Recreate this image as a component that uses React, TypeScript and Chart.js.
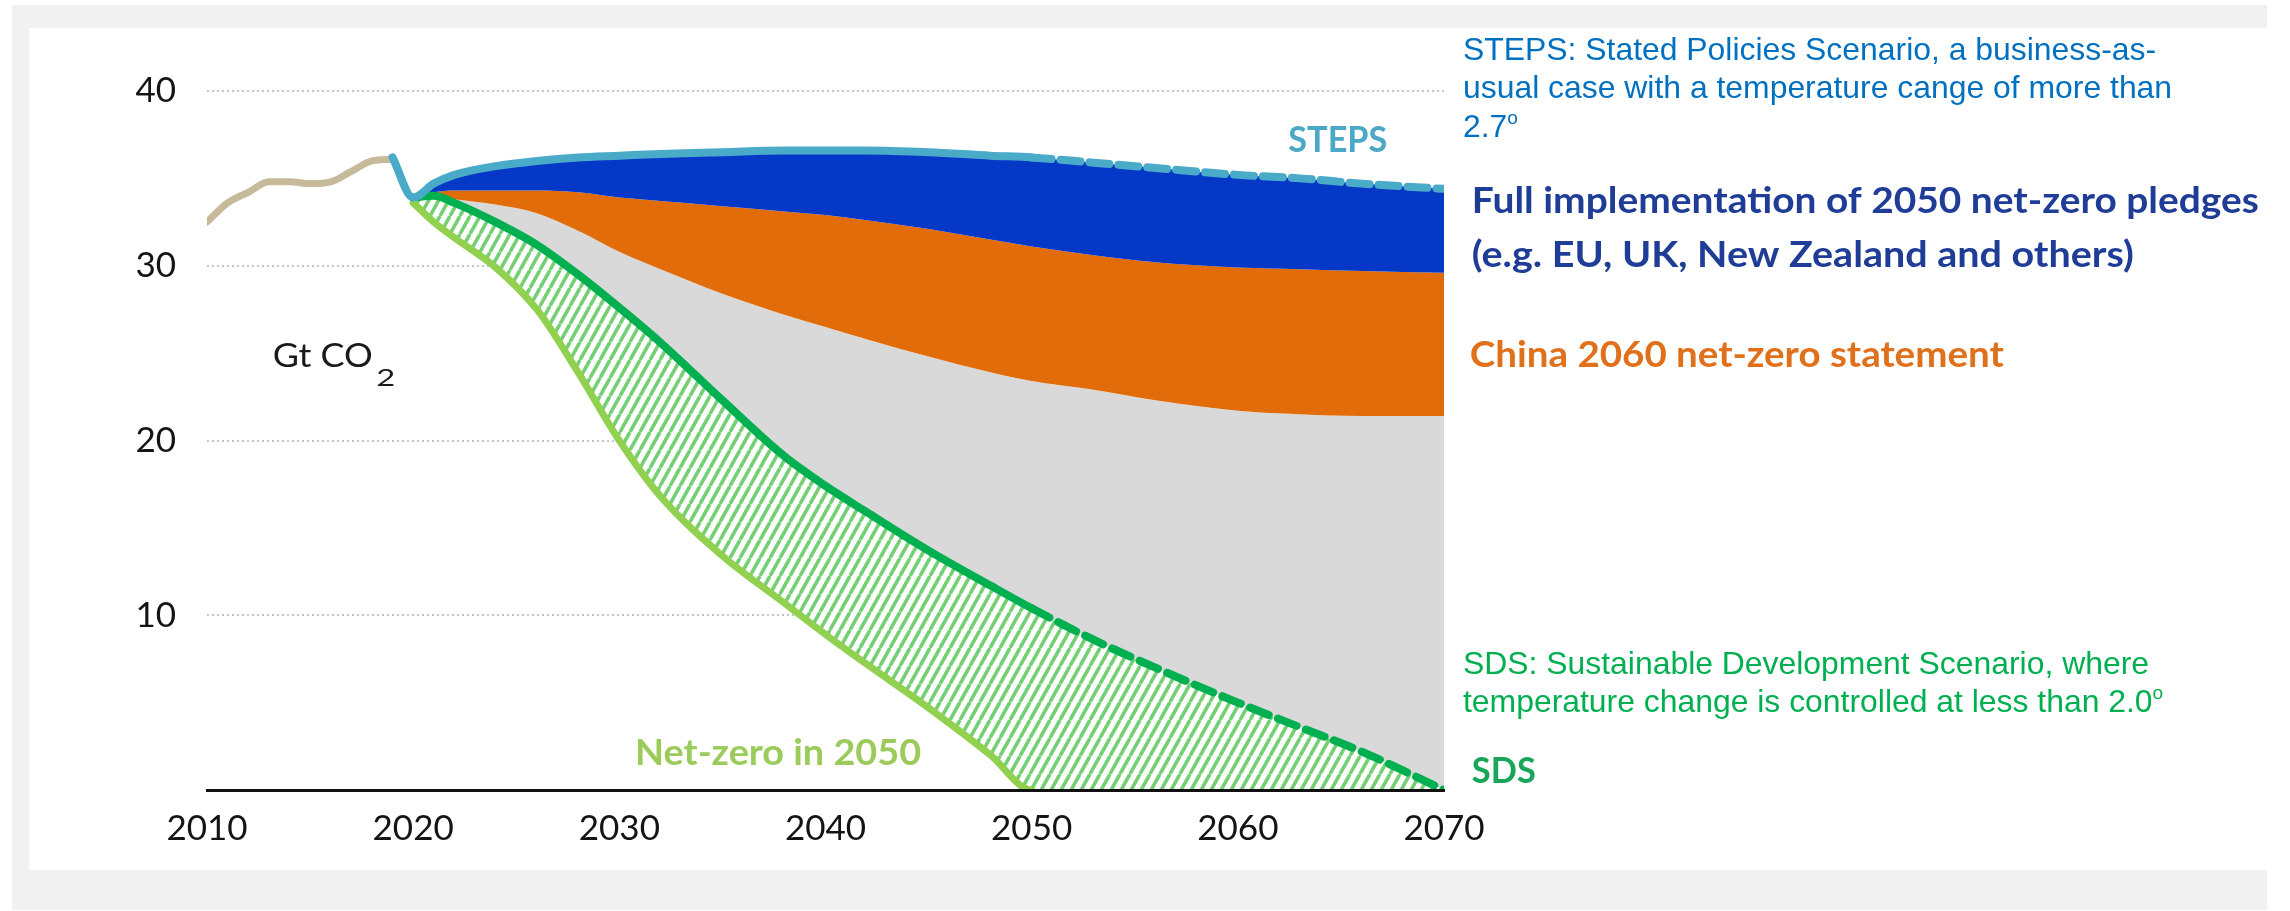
import React, { useEffect, useRef } from 'react';
import { Chart, registerables } from 'chart.js';

Chart.register(...registerables);

// Global energy-related CO2 emissions, Gt CO2
const historyYears = [2010, 2011, 2012, 2013, 2014, 2015, 2016, 2017, 2018, 2019];
const historyValues = [32.5, 33.6, 34.2, 34.8, 34.8, 34.7, 34.8, 35.4, 36.0, 36.1];

// Stated Policies Scenario (starts from the 2019 level, includes the 2020 dip)
const stepsYears = [2019, 2020, 2021, 2022, 2024, 2026, 2028, 2030, 2032, 2035, 2038, 2040, 2042, 2045, 2048, 2050, 2053, 2056, 2060, 2063, 2066, 2070];
const stepsValues = [36.2, 33.9, 34.7, 35.2, 35.7, 36.0, 36.2, 36.3, 36.4, 36.5, 36.6, 36.6, 36.6, 36.5, 36.3, 36.2, 35.9, 35.6, 35.2, 35.0, 34.7, 34.4];

// Shared projection years for the remaining scenario curves
const scenarioYears = [2020, 2021, 2022, 2024, 2026, 2028, 2030, 2032, 2035, 2038, 2040, 2042, 2045, 2048, 2050, 2053, 2056, 2060, 2063, 2066, 2070];
// Emissions after full implementation of 2050 net-zero pledges
const pledgesValues = [33.9, 34.2, 34.3, 34.3, 34.3, 34.2, 33.9, 33.7, 33.4, 33.1, 32.9, 32.6, 32.1, 31.5, 31.1, 30.6, 30.2, 29.9, 29.8, 29.7, 29.6];
// ...plus China's 2060 net-zero statement
const chinaValues = [33.9, 34.0, 33.8, 33.5, 33.0, 32.0, 30.8, 29.8, 28.4, 27.2, 26.5, 25.8, 24.8, 23.9, 23.4, 22.9, 22.3, 21.7, 21.5, 21.4, 21.4];
// Sustainable Development Scenario
const sdsValues = [33.9, 34.0, 33.6, 32.5, 31.2, 29.5, 27.6, 25.6, 22.3, 19.1, 17.4, 15.9, 13.7, 11.7, 10.4, 8.6, 7.0, 5.0, 3.6, 2.2, 0];
// Net-zero emissions by 2050
const netZeroValues = [33.6, 32.5, 31.6, 29.9, 27.5, 23.9, 20.0, 16.8, 13.4, 10.7, 8.9, 7.2, 4.7, 2.0, 0, 0, 0, 0, 0, 0, 0];

const yearTicks = [2010, 2020, 2030, 2040, 2050, 2060, 2070];
const valueTicks = [0, 10, 20, 30, 40];

const DASH_FROM = 2050;

const toPoints = (xs: number[], ys: number[]) => xs.map((x, i) => ({ x, y: ys[i] }));

function makeHatch(): CanvasPattern | string {
  const tile = document.createElement('canvas');
  const w = 10;
  const h = 18;
  tile.width = w;
  tile.height = h;
  const g = tile.getContext('2d');
  if (!g) return '#bfe8b5';
  g.fillStyle = '#ffffff';
  g.fillRect(0, 0, w, h);
  g.strokeStyle = '#74d073';
  g.lineWidth = 3.6;
  for (const dx of [-w, 0, w]) {
    g.beginPath();
    g.moveTo(dx, h);
    g.lineTo(dx + w, 0);
    g.stroke();
  }
  return g.createPattern(tile, 'repeat') || '#bfe8b5';
}

const LABEL_FONT = 'Lato, "Open Sans", sans-serif';

// Draws text stretched or condensed horizontally to an exact width.
function fitText(
  ctx: CanvasRenderingContext2D,
  text: string,
  x: number,
  y: number,
  width: number,
  align: CanvasTextAlign,
  font: string,
  color: string
) {
  ctx.save();
  ctx.font = font;
  ctx.fillStyle = color;
  ctx.textAlign = align;
  ctx.textBaseline = 'alphabetic';
  const natural = ctx.measureText(text).width || 1;
  ctx.translate(x, y);
  ctx.scale(width / natural, 1);
  ctx.fillText(text, 0, 0);
  ctx.restore();
}

const labelPlugin = {
  id: 'scenarioLabels',
  afterDraw(chart: any) {
    const { ctx } = chart;
    const xs = chart.scales.x;
    const ys = chart.scales.y;
    const bold = `bold 36px ${LABEL_FONT}`;
    const put = (text: string, year: number, value: number, width: number, align: CanvasTextAlign, font: string, color: string) =>
      fitText(ctx, text, xs.getPixelForValue(year), ys.getPixelForValue(value), width, align, font, color);

    put('STEPS', 2064.85, 36.5, 99, 'center', bold, '#4ba8c6');
    put('Net-zero in 2050', 2037.7, 1.43, 286, 'center', bold, '#9bcb5b');
    put('SDS', 2071.35, 0.4, 64, 'left', bold, '#19a65a');
    put('Full implementation of 2050 net-zero pledges', 2071.35, 33.02, 787, 'left', bold, '#1f3d96');
    put('(e.g. EU, UK, New Zealand and others)', 2071.35, 29.93, 662, 'left', bold, '#1f3d96');
    put('China 2060 net-zero statement', 2071.25, 24.21, 534, 'left', bold, '#e0701a');

    put('Gt CO', 2013.19, 24.21, 100, 'left', `33px ${LABEL_FONT}`, '#1a1a1a');
    put('2', 2018.21, 23.1, 19, 'left', `24px ${LABEL_FONT}`, '#1a1a1a');
  },
};

const descStyle = (top: number, color: string): React.CSSProperties => ({
  position: 'absolute',
  left: 1463,
  top,
  fontFamily: '"Liberation Sans", Arial, sans-serif',
  fontSize: 31.9,
  lineHeight: '38.3px',
  color,
  whiteSpace: 'nowrap',
});

const degree: React.CSSProperties = { fontSize: '0.6em', position: 'relative', top: -13 };

export default function App() {
  const canvasRef = useRef<HTMLCanvasElement>(null);

  useEffect(() => {
    const canvas = canvasRef.current;
    if (!canvas) return;
    const hatch = makeHatch();
    const clear = 'rgba(0,0,0,0)';

    const dashAfter = (dash: number[]) => (c: any) => (c.p0.parsed.x >= DASH_FROM ? dash : undefined);

    // Bands carry the area fills only; the visible curves are separate line datasets on top.
    const band = (data: { x: number; y: number }[], color: any, target: number | false) => ({
      data,
      borderWidth: 0,
      borderColor: clear,
      backgroundColor: color,
      fill: target,
    });

    const chart = new Chart(canvas, {
      type: 'line',
      data: {
        datasets: [
          {
            label: 'STEPS',
            data: toPoints(stepsYears, stepsValues),
            borderColor: '#4aabc9',
            borderWidth: 8,
            fill: false,
            segment: { borderDash: dashAfter([20, 9]) },
          },
          {
            label: 'Historical',
            data: toPoints(historyYears, historyValues),
            borderColor: '#c6ba9b',
            borderWidth: 7,
            fill: false,
          },
          {
            label: 'Net-zero in 2050',
            data: toPoints(scenarioYears, netZeroValues),
            borderColor: '#92d050',
            borderWidth: 7,
            fill: false,
            segment: {
              borderColor: (c: any) => (c.p0.parsed.x >= DASH_FROM ? clear : undefined),
            },
          },
          {
            label: 'SDS',
            data: toPoints(scenarioYears, sdsValues),
            borderColor: '#00b050',
            borderWidth: 8,
            fill: false,
            segment: { borderDash: dashAfter([20, 10]) },
          },
          // area bands: indices 4..8
          { label: 'STEPS band', ...band(toPoints(stepsYears, stepsValues), '#0638c8', 5) },
          { label: 'Pledges band', ...band(toPoints(scenarioYears, pledgesValues), '#e36c0a', 6) },
          { label: 'China band', ...band(toPoints(scenarioYears, chinaValues), '#d9d9d9', 7) },
          { label: 'SDS band', ...band(toPoints(scenarioYears, sdsValues), hatch, 8) },
          { label: 'Net-zero band', ...band(toPoints(scenarioYears, netZeroValues), clear, false) },
        ],
      },
      options: {
        responsive: false,
        maintainAspectRatio: false,
        animation: false,
        devicePixelRatio: 1,
        events: [],
        layout: { padding: { left: 0, top: 91, right: 846, bottom: 61 } },
        elements: {
          point: { radius: 0, hoverRadius: 0 },
          line: { cubicInterpolationMode: 'monotone', borderCapStyle: 'round', borderJoinStyle: 'round' },
        },
        plugins: {
          legend: { display: false },
          tooltip: { enabled: false },
          filler: { drawTime: 'beforeDatasetsDraw' },
        },
        scales: {
          x: {
            type: 'linear',
            min: yearTicks[0],
            max: yearTicks[yearTicks.length - 1],
            afterFit: (s: any) => {
              s.height = 60;
            },
            afterBuildTicks: (s: any) => {
              s.ticks = yearTicks.map((v) => ({ value: v }));
            },
            grid: { display: false, drawTicks: false },
            border: { display: true, color: '#111111', width: 3, z: 1 },
            ticks: {
              padding: 18,
              color: '#141414',
              font: { family: 'Lato', size: 35 },
              maxRotation: 0,
              autoSkip: false,
              callback: (v: any) => String(v),
            },
          },
          y: {
            type: 'linear',
            min: valueTicks[0],
            max: valueTicks[valueTicks.length - 1],
            afterFit: (s: any) => {
              s.width = 207;
            },
            afterBuildTicks: (s: any) => {
              s.ticks = valueTicks.map((v) => ({ value: v }));
            },
            grid: {
              drawTicks: false,
              lineWidth: 2,
              color: (c: any) => (c.tick && c.tick.value === 0 ? clear : '#c4c4c4'),
            },
            border: { display: false, dash: [2, 3] },
            ticks: {
              padding: 31,
              color: '#141414',
              font: { family: 'Lato', size: 35 },
              callback: (v: any) => (v === 0 ? '' : String(v)),
            },
          },
        },
      },
      plugins: [labelPlugin],
    } as any);

    return () => chart.destroy();
  }, []);

  return (
    <div style={{ position: 'absolute', left: 0, top: 0, width: 2290, height: 911, overflow: 'hidden', background: '#ffffff' }}>
      <div style={{ position: 'absolute', left: 12, top: 5, width: 2255, height: 905, background: '#f1f1f1' }} />
      <div style={{ position: 'absolute', left: 29, top: 28, width: 2238, height: 842, background: '#ffffff' }} />
      <canvas
        ref={canvasRef}
        width={2290}
        height={911}
        style={{ position: 'absolute', left: 0, top: 0, width: 2290, height: 911 }}
      />
      <div style={descStyle(30, '#0070c0')}>
        STEPS: Stated Policies Scenario, a business-as-
        <br />
        usual case with a temperature cange of more than
        <br />
        2.7<span style={degree}>o</span>
      </div>
      <div style={descStyle(644, '#00b050')}>
        SDS: Sustainable Development Scenario, where
        <br />
        temperature change is controlled at less than 2.0<span style={degree}>o</span>
      </div>
    </div>
  );
}
